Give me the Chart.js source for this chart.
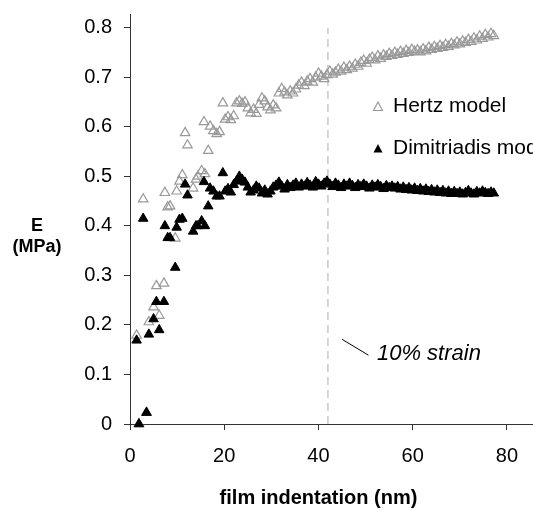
<!DOCTYPE html>
<html>
<head>
<meta charset="utf-8">
<script src="https://cdn.jsdelivr.net/npm/chart.js@4"></script>
<style>
  body { margin: 0; background: #fff; }
  #wrap { width: 533px; height: 510px; position: relative; }
</style>
</head>
<body>
<div id="wrap"><canvas id="chart"></canvas></div>
<script>
// indentation depth (nm), shared by both models
const indentation = [
  1.4, 1.9, 2.8, 3.5, 4.0, 5.0, 5.6, 6.2, 7.2, 7.4, 8.0, 8.5, 9.6, 9.9, 10.5,
  11.1, 11.7, 12.2, 13.4, 14.0, 14.4, 15.2, 15.7, 15.9, 16.6, 17.0, 17.7, 18.4, 19.0, 19.7,
  20.2, 20.8, 21.4, 22.0, 22.6, 23.2, 23.8, 24.4, 25.0, 25.6, 26.2, 26.8, 27.4, 28.0, 28.6,
  29.2, 29.8, 30.4, 31.0, 31.6, 32.2, 32.8, 33.4, 34.0, 34.6, 35.2, 35.8, 36.4, 37.0, 37.6,
  38.2, 38.8, 39.4, 40.0, 40.6, 41.2, 41.8, 42.4, 43.0, 43.6, 44.2, 44.8, 45.4, 46.0, 46.6,
  47.2, 47.8, 48.4, 49.0, 49.6, 50.2, 50.8, 51.4, 52.0, 52.6, 53.2, 53.8, 54.4, 55.0, 55.6,
  56.2, 56.8, 57.4, 58.0, 58.6, 59.2, 59.8, 60.4, 61.0, 61.6, 62.2, 62.8, 63.4, 64.0, 64.6,
  65.2, 65.8, 66.4, 67.0, 67.6, 68.2, 68.8, 69.4, 70.0, 70.6, 71.2, 71.8, 72.4, 73.0, 73.6,
  74.2, 74.8, 75.4, 76.0, 76.6, 77.2
];

// E (MPa), Hertz model
const hertzE = [
  0.179, 0.0, 0.454, 0.023, 0.206, 0.236, 0.279, 0.219, 0.284, 0.467, 0.438, 0.44, 0.375, 0.47, 0.49,
  0.503, 0.588, 0.563, 0.476, 0.494, 0.50, 0.511, 0.61, 0.505, 0.552, 0.601, 0.592, 0.586, 0.59, 0.648,
  0.615, 0.62, 0.614, 0.622, 0.648, 0.652, 0.647, 0.65, 0.638, 0.628, 0.635, 0.627, 0.645, 0.658, 0.652,
  0.64, 0.634, 0.644, 0.638, 0.668, 0.677, 0.67, 0.664, 0.672, 0.668, 0.676, 0.684, 0.69, 0.683, 0.692,
  0.697, 0.69, 0.70, 0.708, 0.702, 0.697, 0.705, 0.712, 0.706, 0.71, 0.716, 0.712, 0.72, 0.715, 0.722,
  0.718, 0.726, 0.722, 0.73, 0.734, 0.728, 0.736, 0.74, 0.735, 0.743, 0.738, 0.745, 0.742, 0.748, 0.744,
  0.75, 0.746, 0.752, 0.748, 0.754, 0.75, 0.756, 0.752, 0.755, 0.751, 0.757, 0.753, 0.76, 0.756, 0.762,
  0.758, 0.764, 0.76, 0.766, 0.762, 0.768, 0.765, 0.771, 0.767, 0.773, 0.77, 0.776, 0.772, 0.779, 0.775,
  0.783, 0.778, 0.786, 0.781, 0.788, 0.784
];

// E (MPa), Dimitriadis model
const dimitriadisE = [
  0.169, 0.0, 0.415, 0.023, 0.181, 0.212, 0.247, 0.19, 0.247, 0.40, 0.376, 0.376, 0.316, 0.397, 0.413,
  0.415, 0.484, 0.462, 0.389, 0.40, 0.40, 0.41, 0.489, 0.40, 0.44, 0.476, 0.47, 0.46, 0.46, 0.507,
  0.47, 0.475, 0.468, 0.483, 0.49, 0.50, 0.494, 0.488, 0.478, 0.468, 0.472, 0.48, 0.476, 0.466, 0.472,
  0.464, 0.47, 0.478, 0.482, 0.488, 0.48, 0.474, 0.483, 0.477, 0.482, 0.486, 0.478, 0.484, 0.48, 0.487,
  0.482, 0.478, 0.489, 0.484, 0.48, 0.486, 0.49, 0.484, 0.479, 0.486, 0.482, 0.477, 0.484, 0.48, 0.486,
  0.481, 0.477, 0.483, 0.479, 0.484, 0.48, 0.476, 0.482, 0.478, 0.483, 0.479, 0.475, 0.481, 0.477, 0.48,
  0.476, 0.479, 0.474, 0.478, 0.473, 0.477, 0.472, 0.476, 0.471, 0.475, 0.47, 0.474, 0.469, 0.473, 0.468,
  0.472, 0.467, 0.471, 0.466, 0.47, 0.465, 0.469, 0.465, 0.468, 0.464, 0.467, 0.471, 0.466, 0.464, 0.469,
  0.466, 0.47, 0.467, 0.465, 0.468, 0.466
];

const xTicks = [0, 20, 40, 60, 80];
const yTicks = [0, 0.1, 0.2, 0.3, 0.4, 0.5, 0.6, 0.7, 0.8];
const strainX = [42, 42];
const strainY = [0, 0.8];
const seriesNames = ['Hertz model', 'Dimitriadis model'];

const FONT = "'Liberation Sans', Arial, sans-serif";

function toPoints(xs, ys) {
  return xs.map((x, i) => ({ x: x, y: ys[i] }));
}

// legend, axis titles and the strain note
const extras = {
  id: 'extras',
  afterDraw(chart) {
    const ctx = chart.ctx;
    const xs = chart.scales.x;
    const ys = chart.scales.y;
    const area = chart.chartArea;
    ctx.save();

    // x axis line runs on to the edge of the picture
    ctx.strokeStyle = '#333';
    ctx.lineWidth = 1;
    ctx.beginPath();
    ctx.moveTo(area.right - 1, Math.round(area.bottom) + 0.5);
    ctx.lineTo(chart.width, Math.round(area.bottom) + 0.5);
    ctx.stroke();

    ctx.fillStyle = '#000';

    // y title
    ctx.font = 'bold 18px ' + FONT;
    ctx.textAlign = 'center';
    ctx.textBaseline = 'middle';
    ctx.fillText('E', 37, 226);
    ctx.fillText('(MPa)', 37, 247);

    // x title
    ctx.font = 'bold 20px ' + FONT;
    ctx.fillText('film indentation (nm)', (xs.getPixelForValue(0) + xs.getPixelForValue(80)) / 2, 498);

    // legend
    ctx.font = '21px ' + FONT;
    ctx.textAlign = 'left';
    const drawTri = (cx, cy, fill) => {
      ctx.beginPath();
      ctx.moveTo(cx, cy - 5);
      ctx.lineTo(cx + 4.5, cy + 3.5);
      ctx.lineTo(cx - 4.5, cy + 3.5);
      ctx.closePath();
      if (fill) { ctx.fillStyle = '#000'; ctx.fill(); }
      else { ctx.strokeStyle = '#999'; ctx.lineWidth = 1.2; ctx.stroke(); }
    };
    drawTri(378, 107, false);
    ctx.fillStyle = '#000';
    ctx.fillText(seriesNames[0], 393, 106);
    drawTri(378, 149, true);
    ctx.fillStyle = '#000';
    ctx.fillText(seriesNames[1], 393, 148);

    // 10% strain note
    ctx.strokeStyle = '#000';
    ctx.lineWidth = 1;
    ctx.beginPath();
    ctx.moveTo(xs.getPixelForValue(45.0), ys.getPixelForValue(0.171));
    ctx.lineTo(xs.getPixelForValue(50.6), ys.getPixelForValue(0.139));
    ctx.stroke();
    ctx.font = 'italic 22px ' + FONT;
    ctx.fillText('10% strain', xs.getPixelForValue(52.4), ys.getPixelForValue(0.142));
    ctx.restore();
  }
};

new Chart(document.getElementById('chart'), {
  type: 'scatter',
  data: {
    datasets: [
      {
        label: 'strain',
        type: 'line',
        data: toPoints(strainX, strainY),
        borderColor: '#c8c8c8',
        borderWidth: 1.5,
        borderDash: [8, 5],
        pointRadius: 0,
        order: 3
      },
      {
        label: seriesNames[0],
        data: toPoints(indentation, hertzE),
        pointStyle: 'triangle',
        pointRadius: 5.5,
        borderColor: '#999',
        borderWidth: 1.2,
        backgroundColor: 'rgba(0,0,0,0)',
        clip: false,
        order: 2
      },
      {
        label: seriesNames[1],
        data: toPoints(indentation, dimitriadisE),
        pointStyle: 'triangle',
        pointRadius: 5.5,
        borderColor: '#000',
        borderWidth: 1,
        backgroundColor: '#000',
        clip: false,
        order: 1
      }
    ]
  },
  options: {
    responsive: true,
    maintainAspectRatio: false,
    animation: false,
    layout: { padding: { top: 14, right: 0, bottom: 0, left: 0 } },
    plugins: {
      legend: { display: false },
      tooltip: { enabled: false }
    },
    scales: {
      x: {
        type: 'linear',
        min: 0,
        max: 84.1,
        afterBuildTicks: s => { s.ticks = xTicks.map(v => ({ value: v })); },
        afterFit: s => { s.height = 86; s.paddingLeft = 0; s.paddingRight = 0; },
        border: { color: '#333', width: 1 },
        grid: { drawOnChartArea: false, drawTicks: true, tickLength: 6, color: '#333' },
        ticks: { color: '#000', font: { family: FONT, size: 20 }, padding: 14, maxRotation: 0 }
      },
      y: {
        type: 'linear',
        min: 0,
        max: 0.828,
        afterBuildTicks: s => { s.ticks = yTicks.map(v => ({ value: v })); },
        afterFit: s => { s.width = 130; s.paddingTop = 0; s.paddingBottom = 0; },
        border: { color: '#333', width: 1 },
        grid: { drawOnChartArea: false, drawTicks: true, tickLength: 6, color: '#333' },
        ticks: {
          color: '#000',
          font: { family: FONT, size: 20 },
          padding: 12,
          callback: v => String(Math.round(v * 10) / 10)
        }
      }
    }
  },
  plugins: [extras]
});
</script>
</body>
</html>
